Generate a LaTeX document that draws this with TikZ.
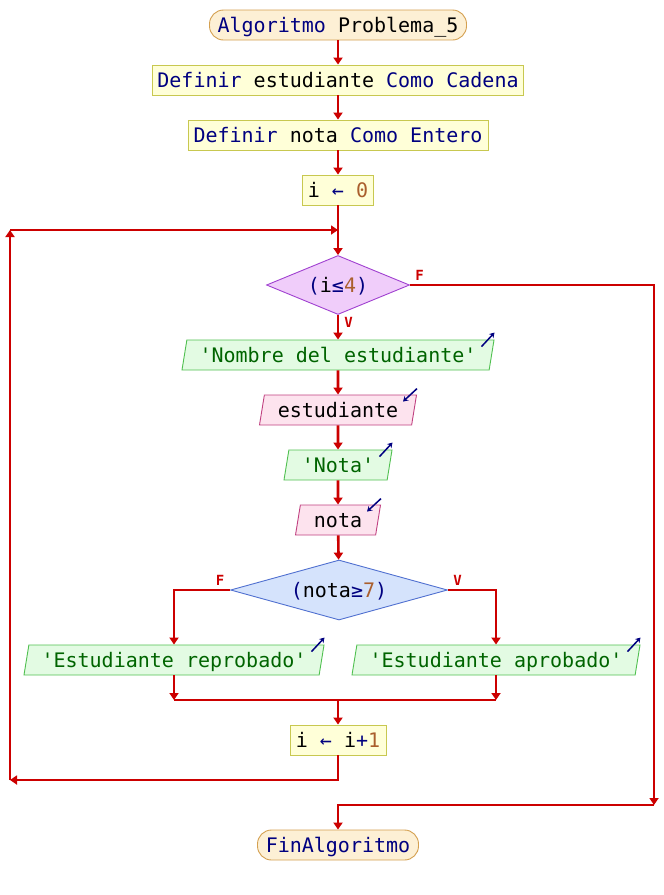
\documentclass[tikz,border=0pt]{standalone}
\usepackage{fontspec}
\setmonofont{DejaVu Sans Mono}
\usetikzlibrary{arrows.meta,shapes.geometric}
\definecolor{kwc}{RGB}{0,0,128}
\definecolor{numc}{RGB}{170,95,45}
\definecolor{strc}{RGB}{0,100,0}
\definecolor{flowc}{RGB}{204,0,0}
\definecolor{termfill}{RGB}{253,240,213}
\definecolor{termdraw}{RGB}{212,160,80}
\definecolor{procfill}{RGB}{255,255,216}
\definecolor{procdraw}{RGB}{200,200,80}
\definecolor{d1fill}{RGB}{240,205,250}
\definecolor{d1draw}{RGB}{160,64,208}
\definecolor{d2fill}{RGB}{213,227,252}
\definecolor{d2draw}{RGB}{80,112,208}
\definecolor{outfill}{RGB}{227,251,227}
\definecolor{outdraw}{RGB}{80,192,80}
\definecolor{infill}{RGB}{253,227,238}
\definecolor{indraw}{RGB}{192,64,128}
\newcommand{\kw}[1]{\textcolor{kwc}{#1}}
\newcommand{\nm}[1]{\textcolor{numc}{#1}}
\newcommand{\st}[1]{\textcolor{strc}{#1}}
\begin{document}
\begin{tikzpicture}[x=1pt,y=-1pt,
  base/.style={font=\ttfamily\fontsize{20}{24}\selectfont, inner sep=0pt,
    minimum height=30pt, text height=14.6pt, text depth=0pt, line width=0.9pt},
  term/.style={base, rectangle, rounded corners=14pt, fill=termfill, draw=termdraw},
  proc/.style={base, rectangle, fill=procfill, draw=procdraw},
  cond/.style={base, diamond},
  outp/.style={base, trapezium, trapezium left angle=71.57, trapezium right angle=108.43,
    trapezium stretches body, fill=outfill, draw=outdraw},
  inp/.style={base, trapezium, trapezium left angle=71.57, trapezium right angle=108.43,
    trapezium stretches body, fill=infill, draw=indraw},
  flow/.style={draw=flowc, line width=2.6pt, -{Triangle[width=9pt,length=7pt]}},
  plain/.style={draw=flowc, line width=2.6pt},
  icon/.style={draw=kwc, line width=1.5pt, -{Stealth[width=6pt,length=5pt]}},
  lbl/.style={font=\ttfamily\bfseries\fontsize{14}{16}\selectfont, text=flowc, inner sep=0pt}
]
\useasboundingbox (0,0) rectangle (664,895);

\node[term, minimum width=257pt] (start) at (338,25) {\kw{Algoritmo} Problema\_5};
\node[proc, minimum width=371pt] (def1) at (338,80) {\kw{Definir} estudiante \kw{Como Cadena}};
\node[proc, minimum width=300pt] (def2) at (338,135) {\kw{Definir} nota \kw{Como Entero}};
\node[proc, minimum width=71pt] (init) at (338,190) {i \kw{←} \nm{0}};
\node[cond, shape aspect=2.42, minimum width=143pt, minimum height=59pt, fill=d1fill, draw=d1draw] (c1) at (338,285) {\kw{(}i\kw{≤}\nm{4}\kw{)}};
\node[outp, minimum width=312pt] (o1) at (338,355) {\st{'Nombre del estudiante'}};
\node[inp, minimum width=157pt] (i1) at (338,410) {estudiante};
\node[outp, minimum width=108pt] (o2) at (338,465) {\st{'Nota'}};
\node[inp, minimum width=85pt] (i2) at (338,520) {nota};
\node[cond, shape aspect=3.6, minimum width=217pt, minimum height=60pt, fill=d2fill, draw=d2draw] (c2) at (339,590) {\kw{(}nota\kw{≥}\nm{7}\kw{)}};
\node[outp, minimum width=300pt] (oF) at (174,660) {\st{'Estudiante reprobado'}};
\node[outp, minimum width=288pt] (oV) at (496,660) {\st{'Estudiante aprobado'}};
\node[proc, minimum width=96pt] (inc) at (338,740) {i \kw{←} i\kw{+}\nm{1}};
\node[term, minimum width=161pt] (fin) at (338,845) {\kw{FinAlgoritmo}};

% labels
\node[lbl] (lf1) at (419.5,275.5) {F};
\node[lbl] (lv1) at (348.5,322.5) {V};
\node[lbl] (lf2) at (220,580.5) {F};
\node[lbl] (lv2) at (457.5,580.5) {V};

% icons
\draw[icon] ([shift={(-13,7)}]o1.top right corner) -- ([shift={(0,-7)}]o1.top right corner);
\draw[icon] ([shift={(-13,7)}]o2.top right corner) -- ([shift={(0,-7)}]o2.top right corner);
\draw[icon] ([shift={(-13,7)}]oF.top right corner) -- ([shift={(0,-7)}]oF.top right corner);
\draw[icon] ([shift={(-13,7)}]oV.top right corner) -- ([shift={(0,-7)}]oV.top right corner);
\draw[icon] ([shift={(0,-6)}]i1.top right corner) -- ([shift={(-14,7)}]i1.top right corner);
\draw[icon] ([shift={(0,-6)}]i2.top right corner) -- ([shift={(-14,7)}]i2.top right corner);

% coordinates
\coordinate (jn) at (338,230);
\coordinate (lt) at (10,230);
\coordinate (lb) at (10,780);
\coordinate (rt) at (654,285);
\coordinate (rb) at (654,805);
\coordinate (mL) at (174,700);
\coordinate (mR) at (496,700);
\coordinate (mC) at (338,700);

% connectors
\draw[flow] (start) -- (def1);
\draw[flow] (def1) -- (def2);
\draw[flow] (def2) -- (init);
\draw[flow] (init) -- (c1);
\draw[flow] (c1) -- (o1);
\draw[flow] (o1) -- (i1);
\draw[flow] (i1) -- (o2);
\draw[flow] (o2) -- (i2);
\draw[flow] (i2) -- (c2);
\draw[flow] (c2.west) -| (oF);
\draw[flow] (c2.east) -| (oV);
\draw[flow] (oF) -- (mL);
\draw[flow] (oV) -- (mR);
\draw[plain] (mL) -- (mR);
\draw[flow] (mC) -- (inc);
\draw[flow] (inc) |- (lb);
\draw[flow] (lb) -- (lt);
\draw[flow] (lt) -- (jn);
\draw[flow] (c1.east) -- (rt) -- (rb);
\draw[flow] (rb) -| (fin);
\end{tikzpicture}
\end{document}
